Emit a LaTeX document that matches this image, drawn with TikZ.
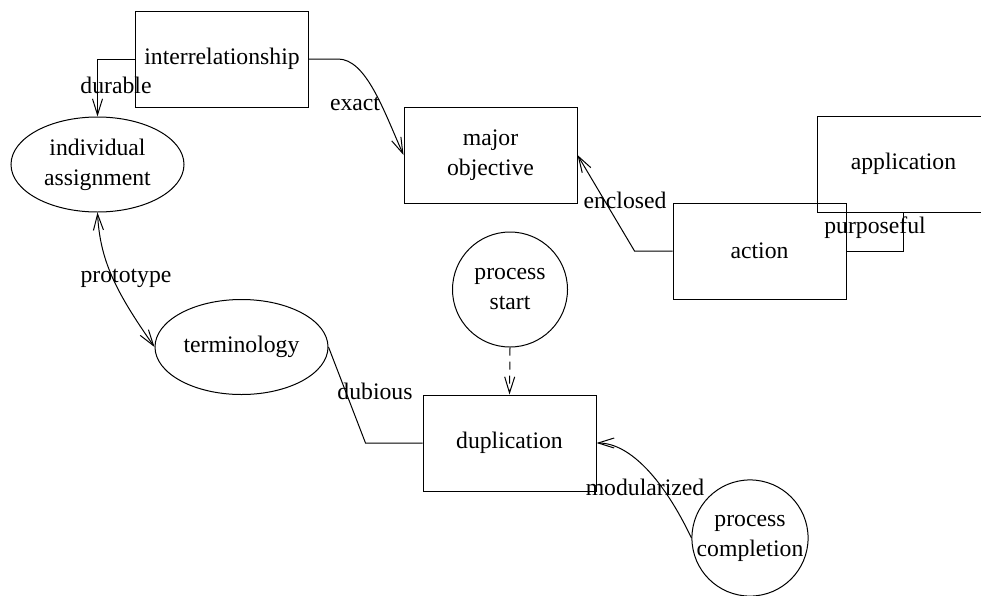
\documentclass[tikz,border=0pt]{standalone}
\usepackage{fontspec}
\setmainfont{Liberation Serif}
\usetikzlibrary{arrows.meta,shapes.geometric,calc}
\begin{document}
\begin{tikzpicture}[x=1pt,y=-1pt,
  font=\fontsize{23.7}{30}\selectfont,
  line width=1pt,
  >={Straight Barb[length=16pt,width=10pt,line width=1pt]},
  boxnode/.style={draw,rectangle,minimum width=173pt,minimum height=96pt,inner sep=0pt,align=center},
  ellnode/.style={draw,ellipse,minimum width=173pt,minimum height=95pt,inner sep=0pt,align=center},
  circnode/.style={draw,circle,minimum size=115pt,inner sep=0pt,align=center},
  lbl/.style={inner sep=0pt}]
\useasboundingbox (0,0) rectangle (981,595);
% nodes
\node[boxnode] (inter) at (222,59) {interrelationship};
\node[boxnode] (mo) at (490.5,155) {major\\objective};
\node[boxnode] (app) at (903.5,164) {application};
\node[boxnode] (act) at (759.5,251) {action};
\node[ellnode] (ia) at (97.5,164.5) {individual\\assignment};
\node[ellnode] (term) at (241.5,347) {terminology};
\node[circnode] (ps) at (510,289.5) {process\\start};
\node[boxnode] (dup) at (509.5,443) {duplication};
\node[circnode] (pc) at (750,538) {process\\completion};
% connectors
\draw[->] (inter.west) -| (ia.north);
\draw[->] (inter.east) -- ++(29,0) .. controls +(28,0) and +(-20,-45) .. (mo.west);
\draw[->] (act.west) -- ++(-38,0) -- (mo.east);
\draw (act.east) -| (app.south);
\draw[->,dash pattern=on 8pt off 6pt] (ps.south) -- (dup.north);
\draw (term.east) -- ($(dup.west)+(-57,0)$) -- (dup.west);
\draw[->] (pc.west) .. controls +(-27,-57) and +(34,0) .. (dup.east);
\draw[<->] (ia.south) .. controls +(2.5,47) and +(-40,-57) .. (term.west);
% labels
\node[lbl] (l1) at (116,85) {durable};
\node[lbl] (l2) at (355,104) {exact};
\node[lbl] (l3) at (625,200) {enclosed};
\node[lbl] (l4) at (875,228) {purposeful};
\node[lbl] (l5) at (126,278) {prototype};
\node[lbl] (l6) at (375,391) {dubious};
\node[lbl] (l7) at (645,487) {modularized};
\end{tikzpicture}
\end{document}
